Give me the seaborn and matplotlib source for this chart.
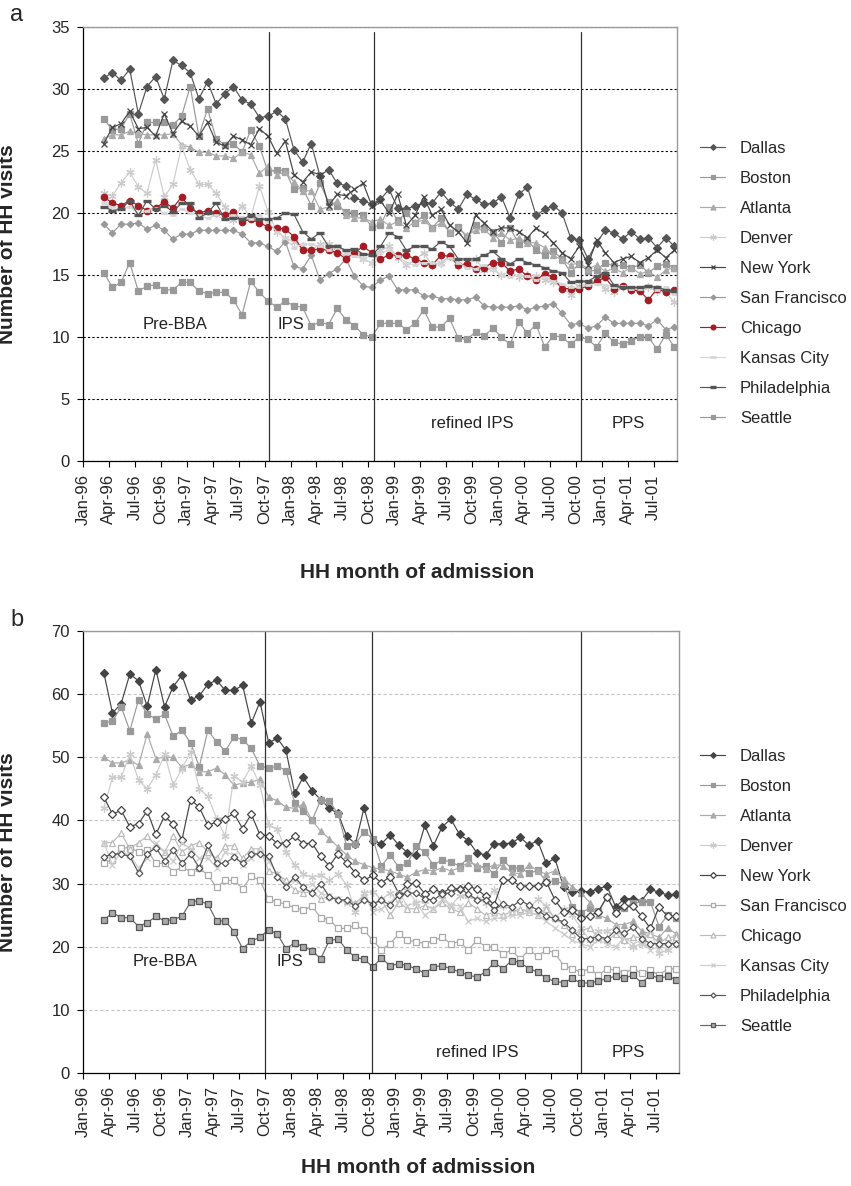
import numpy as np
import pandas as pd
import matplotlib
matplotlib.use("Agg")
import matplotlib.pyplot as plt
import seaborn as sns

cities = ["Dallas", "Boston", "Atlanta", "Denver", "New York", "San Francisco",
          "Chicago", "Kansas City", "Philadelphia", "Seattle"]

# monthly admissions Mar-96 .. Sep-01
months = pd.date_range("1996-03-01", "2001-09-01", freq="MS")

tick_labels = ["Jan-96", "Apr-96", "Jul-96", "Oct-96", "Jan-97", "Apr-97", "Jul-97", "Oct-97",
               "Jan-98", "Apr-98", "Jul-98", "Oct-98", "Jan-99", "Apr-99", "Jul-99", "Oct-99",
               "Jan-00", "Apr-00", "Jul-00", "Oct-00", "Jan-01", "Apr-01", "Jul-01"]

period_names = ["Pre-BBA", "IPS", "refined IPS", "PPS"]
period_starts = ["1997-10-01", "1998-10-01", "2000-10-01"]

# ---- panel a
a_dallas = [30.9, 31.3, 30.7, 31.6, 28.0, 30.2, 31.0, 29.2, 32.3, 31.9, 31.3, 29.2,
            30.6, 28.8, 29.6, 30.2, 29.1, 28.8, 27.7, 27.8, 28.2, 27.6, 25.1, 24.1,
            25.6, 23.0, 23.5, 22.4, 22.2, 21.2, 21.0, 20.7, 21.1, 21.9, 20.4, 20.3,
            20.6, 20.8, 20.8, 21.7, 20.9, 20.3, 21.5, 21.1, 20.7, 20.8, 21.3, 19.6,
            21.5, 22.1, 19.8, 20.3, 20.6, 20.0, 18.0, 17.8, 16.3, 17.6, 18.6, 18.4,
            17.9, 18.5, 17.9, 18.0, 17.2, 18.0, 17.3]
a_boston = [27.6, 26.7, 26.8, 28.0, 25.6, 27.3, 27.3, 27.3, 27.1, 27.8, 30.2, 26.2,
            28.4, 26.0, 25.5, 25.6, 24.9, 26.7, 25.4, 23.3, 23.5, 23.4, 21.9, 22.0,
            20.6, 22.4, 20.9, 20.6, 20.1, 20.0, 19.8, 18.9, 19.0, 20.5, 19.4, 20.0,
            19.2, 19.8, 18.8, 19.6, 18.4, 18.9, 18.0, 19.0, 18.8, 18.5, 17.6, 18.8,
            17.5, 17.8, 17.0, 16.6, 16.9, 16.3, 15.2, 15.9, 15.3, 15.4, 16.0, 15.7,
            15.8, 15.6, 15.8, 15.2, 15.7, 15.9, 15.6]
a_atlanta = [26.0, 26.3, 26.3, 26.6, 26.4, 26.3, 26.3, 26.3, 26.4, 25.5, 25.3, 24.9,
             24.9, 24.6, 24.6, 24.4, 24.9, 24.7, 23.2, 23.8, 23.1, 23.3, 22.5, 21.8,
             21.8, 20.3, 20.5, 21.0, 19.8, 19.6, 19.6, 19.3, 19.5, 19.0, 19.3, 18.8,
             19.3, 19.4, 18.8, 19.2, 18.5, 18.8, 18.2, 18.6, 18.7, 18.0, 18.4, 17.8,
             18.0, 17.6, 17.6, 17.2, 16.6, 16.2, 15.8, 16.0, 15.5, 15.8, 15.3, 15.5,
             15.2, 15.6, 15.1, 15.3, 14.8, 15.4, 15.6]
a_denver = [21.6, 21.4, 22.4, 23.3, 22.1, 21.6, 24.3, 21.3, 22.3, 25.4, 23.5, 22.3,
            22.3, 21.6, 20.5, 19.4, 20.6, 19.6, 22.2, 20.1, 18.5, 18.0, 17.7, 17.3,
            17.0, 17.5, 17.5, 17.0, 16.5, 16.8, 16.3, 16.0, 17.0, 17.3, 16.4, 15.8,
            16.2, 16.8, 15.8, 16.0, 16.5, 15.7, 15.8, 16.3, 15.4, 15.5, 15.0, 15.3,
            14.8, 15.0, 14.9, 14.6, 14.4, 14.0, 13.4, 14.1, 14.3, 14.5, 13.9, 13.6,
            14.0, 13.8, 13.8, 14.0, 13.7, 13.6, 12.8]
a_newyork = [25.6, 26.9, 27.2, 28.2, 26.8, 26.9, 26.2, 28.0, 26.4, 27.4, 27.0, 26.2,
             27.3, 25.7, 25.4, 26.2, 25.9, 25.5, 26.8, 26.2, 24.8, 25.8, 23.1, 22.5,
             23.3, 23.1, 20.6, 21.5, 21.4, 21.9, 22.4, 20.6, 21.0, 20.0, 21.5, 19.0,
             19.8, 21.3, 19.8, 20.3, 19.0, 18.5, 17.6, 19.8, 19.2, 18.5, 18.8, 18.8,
             18.5, 18.0, 18.8, 18.3, 17.6, 16.8, 16.3, 17.3, 15.8, 17.8, 16.8, 16.0,
             16.3, 16.5, 16.0, 16.4, 17.0, 16.4, 17.0]
a_sf = [19.1, 18.4, 19.1, 19.1, 19.2, 18.7, 19.0, 18.6, 17.9, 18.3, 18.3, 18.6,
        18.6, 18.6, 18.6, 18.6, 18.3, 17.6, 17.6, 17.3, 16.9, 17.7, 15.7, 15.5,
        16.6, 14.6, 15.1, 15.5, 16.3, 14.9, 14.1, 14.0, 14.6, 14.9, 13.8, 13.8,
        13.8, 13.3, 13.3, 13.1, 13.1, 13.0, 13.0, 13.2, 12.5, 12.4, 12.4, 12.4,
        12.5, 12.2, 12.4, 12.5, 12.7, 11.9, 11.0, 11.1, 10.7, 10.9, 11.6, 11.1,
        11.1, 11.1, 11.1, 10.9, 11.4, 10.6, 10.8]
a_chicago = [21.3, 20.8, 20.6, 21.0, 20.6, 20.2, 20.4, 20.9, 20.4, 21.3, 20.4, 20.0,
             20.2, 20.0, 19.8, 20.1, 19.3, 19.5, 19.2, 18.9, 18.8, 18.7, 18.1, 17.0,
             17.0, 17.1, 17.0, 16.8, 16.3, 16.8, 17.3, 16.8, 16.3, 16.6, 16.6, 16.6,
             16.3, 16.0, 15.8, 16.6, 16.5, 15.8, 15.9, 15.5, 15.6, 16.0, 16.0, 15.3,
             15.5, 14.9, 14.6, 15.1, 14.8, 13.9, 13.9, 13.9, 14.1, 14.5, 14.8, 13.9,
             14.1, 13.8, 13.7, 13.0, 13.9, 13.6, 13.8]
a_kc = [20.8, 20.5, 20.3, 20.5, 20.0, 20.2, 20.4, 20.0, 19.8, 20.3, 20.0, 19.8,
        19.6, 19.8, 19.5, 19.8, 19.7, 19.5, 19.8, 19.3, 18.5, 18.0, 17.2, 17.5,
        17.5, 17.3, 17.0, 17.4, 16.8, 16.5, 16.3, 16.0, 16.8, 17.0, 16.5, 16.0,
        15.8, 16.0, 16.0, 15.8, 16.4, 16.0, 15.6, 15.5, 15.8, 15.4, 15.0, 14.8,
        15.0, 14.9, 14.6, 14.8, 14.5, 14.3, 14.0, 14.0, 14.2, 14.3, 14.2, 14.0,
        14.1, 13.9, 13.9, 14.2, 13.8, 14.0, 13.5]
a_philly = [20.5, 20.2, 20.3, 21.0, 19.8, 21.0, 20.3, 20.6, 20.1, 20.8, 20.8, 19.6,
            20.0, 20.8, 19.5, 19.6, 19.5, 19.8, 19.5, 19.5, 19.6, 20.0, 19.9, 18.5,
            17.9, 18.4, 17.3, 17.3, 17.0, 17.1, 16.7, 16.6, 17.3, 18.4, 18.1, 17.0,
            17.3, 17.3, 17.1, 17.7, 17.3, 16.3, 16.3, 16.3, 16.6, 16.9, 16.3, 15.9,
            16.3, 16.0, 15.8, 15.6, 15.3, 15.2, 14.4, 14.5, 14.5, 14.9, 15.2, 14.2,
            14.0, 14.0, 14.0, 14.1, 14.0, 13.8, 13.7]
a_seattle = [15.2, 14.0, 14.4, 16.0, 13.7, 14.1, 14.2, 13.8, 13.8, 14.4, 14.4, 13.7,
             13.5, 13.6, 13.6, 13.0, 11.8, 14.5, 13.6, 12.9, 12.4, 12.9, 12.5, 12.4,
             10.9, 11.2, 11.0, 12.3, 11.4, 10.9, 10.2, 10.0, 11.1, 11.1, 11.1, 10.6,
             11.1, 12.2, 10.8, 10.8, 11.5, 9.9, 9.8, 10.4, 10.1, 10.7, 10.0, 9.4,
             11.2, 10.3, 11.0, 9.2, 10.1, 10.0, 9.4, 10.0, 9.8, 9.2, 10.3, 9.6,
             9.4, 9.7, 10.0, 10.0, 9.0, 10.2, 9.2]

# ---- panel b
b_dallas = [63.4, 57.0, 58.5, 63.2, 62.1, 58.1, 63.9, 58.0, 61.2, 63.0, 59.1, 59.7,
            61.6, 62.2, 60.6, 60.6, 61.4, 55.4, 58.8, 52.3, 53.0, 51.1, 44.3, 46.9,
            44.7, 43.3, 41.9, 41.1, 37.5, 36.3, 42.0, 36.8, 36.3, 37.7, 36.1, 34.9,
            34.5, 39.2, 36.0, 39.0, 40.2, 37.8, 36.8, 34.9, 34.5, 36.3, 36.3, 36.4,
            37.3, 36.1, 36.8, 33.2, 34.0, 29.4, 28.7, 28.8, 28.7, 29.2, 29.6, 26.3,
            27.6, 27.6, 27.3, 29.1, 28.6, 28.2, 28.3]
b_boston = [55.4, 55.7, 58.0, 54.2, 59.1, 56.8, 56.1, 56.8, 53.3, 54.3, 52.3, 48.5,
            54.3, 52.4, 51.0, 53.2, 52.8, 51.4, 48.6, 48.3, 48.6, 47.9, 42.8, 41.5,
            40.0, 43.2, 43.1, 41.0, 35.9, 36.3, 38.2, 37.1, 32.8, 34.5, 32.6, 33.2,
            35.9, 35.0, 32.9, 33.8, 33.4, 32.8, 34.0, 32.5, 32.8, 31.5, 33.7, 32.4,
            32.5, 31.6, 32.1, 30.3, 30.4, 30.0, 26.3, 25.4, 26.1, 25.6, 27.9, 25.5,
            26.2, 26.9, 27.1, 27.1, 23.2, 25.0, 24.6]
b_atlanta = [50.0, 49.1, 49.1, 49.6, 48.7, 53.7, 49.8, 50.0, 50.0, 48.4, 48.9, 47.7,
             47.7, 48.3, 47.2, 45.6, 45.9, 46.1, 46.5, 43.7, 43.1, 42.1, 41.9, 42.6,
             40.0, 38.3, 37.1, 35.8, 34.5, 33.5, 33.0, 32.5, 32.3, 32.0, 31.5, 31.0,
             31.8, 32.2, 32.0, 32.5, 32.0, 32.5, 33.3, 33.0, 32.3, 33.0, 32.8, 31.8,
             31.5, 33.0, 32.0, 31.5, 32.0, 30.8, 29.5, 28.5, 27.0, 25.0, 24.5, 23.5,
             23.5, 24.0, 22.5, 22.0, 21.5, 23.0, 22.0]
b_denver = [42.0, 46.8, 46.8, 50.5, 46.4, 45.0, 47.2, 50.5, 45.6, 48.2, 50.8, 45.0,
            43.8, 40.3, 37.5, 47.0, 46.1, 48.6, 45.6, 39.2, 38.7, 35.0, 33.0, 31.5,
            31.0, 31.3, 30.5, 31.5, 29.8, 25.5, 28.5, 28.7, 27.5, 28.5, 27.0, 29.0,
            27.0, 27.2, 29.2, 28.0, 26.5, 28.0, 28.0, 27.5, 27.0, 29.0, 26.5, 26.0,
            25.5, 26.0, 27.5, 26.5, 24.5, 26.0, 25.0, 23.0, 21.0, 22.5, 22.5, 23.0,
            21.0, 20.0, 20.5, 22.5, 19.0, 19.5, 21.5]
b_newyork = [43.7, 41.0, 41.6, 39.0, 39.5, 41.5, 37.8, 40.7, 39.4, 36.9, 43.3, 42.1,
             39.2, 39.8, 40.3, 41.1, 38.7, 41.0, 37.7, 37.6, 36.3, 36.5, 37.5, 36.3,
             36.4, 34.3, 32.8, 34.7, 33.3, 31.7, 30.5, 31.3, 30.1, 31.1, 28.4, 29.9,
             30.1, 28.4, 29.2, 28.5, 29.3, 29.1, 29.6, 29.1, 28.0, 26.6, 30.6, 30.5,
             29.6, 29.6, 29.6, 30.3, 27.4, 25.5, 25.8, 24.5, 24.9, 25.5, 27.9, 25.4,
             26.4, 26.4, 24.8, 22.9, 26.3, 24.8, 24.8]
b_sf = [33.2, 33.8, 35.6, 35.7, 35.0, 35.3, 33.2, 33.2, 31.9, 32.6, 31.9, 32.5,
        31.3, 29.4, 30.5, 30.5, 29.2, 31.2, 30.5, 27.5, 27.1, 26.7, 26.2, 25.8,
        26.4, 24.6, 24.3, 22.9, 22.9, 23.4, 22.6, 21.0, 19.5, 20.5, 22.0, 21.0,
        20.8, 20.5, 21.0, 21.5, 20.5, 20.8, 19.5, 21.0, 20.0, 20.0, 18.8, 19.5,
        18.0, 19.5, 18.5, 19.5, 19.0, 17.0, 16.5, 16.0, 16.5, 15.5, 16.5, 16.3,
        15.8, 16.5, 15.8, 16.3, 15.5, 16.5, 16.5]
b_chicago = [36.5, 36.5, 38.0, 35.5, 36.5, 37.5, 36.0, 35.0, 37.5, 35.0, 36.0, 36.5,
             35.0, 34.0, 36.0, 36.0, 34.0, 35.5, 35.5, 32.0, 31.5, 30.5, 29.0, 28.5,
             28.8, 27.5, 28.0, 27.5, 27.3, 27.0, 28.0, 26.5, 27.5, 25.0, 27.0, 26.0,
             26.0, 26.5, 26.0, 27.0, 26.0, 25.5, 27.0, 26.0, 25.0, 25.5, 25.0, 25.5,
             26.0, 25.5, 25.0, 26.0, 24.5, 23.5, 22.0, 22.5, 23.0, 21.5, 21.0, 22.0,
             21.0, 21.5, 21.5, 22.0, 20.5, 21.5, 21.5]
b_kc = [36.5, 33.0, 35.0, 34.5, 32.5, 34.0, 36.5, 35.0, 33.5, 36.5, 35.5, 34.0,
        34.0, 32.5, 35.0, 34.5, 33.0, 34.0, 35.0, 33.5, 31.5, 30.0, 30.5, 29.5,
        30.0, 28.5, 28.0, 27.5, 27.0, 26.5, 28.5, 25.5, 26.0, 27.0, 28.5, 26.5,
        27.0, 25.0, 26.0, 27.5, 26.5, 26.5, 24.0, 24.5, 24.0, 24.5, 24.5, 25.0,
        25.0, 25.5, 25.0, 24.0, 23.0, 22.0, 21.0, 20.5, 20.0, 21.0, 20.5, 20.0,
        21.5, 20.5, 21.0, 19.5, 20.0, 20.5, 20.5]
b_philly = [34.2, 34.7, 34.7, 34.3, 31.7, 34.7, 35.7, 33.6, 35.3, 33.2, 34.7, 32.5,
            36.1, 33.2, 33.2, 34.2, 33.2, 34.7, 34.7, 34.3, 31.1, 29.5, 31.1, 29.4,
            28.5, 30.0, 27.9, 27.4, 27.4, 26.4, 27.4, 26.8, 27.4, 26.6, 28.2, 28.5,
            28.5, 27.6, 27.4, 28.4, 28.5, 29.2, 28.4, 27.4, 27.4, 25.8, 26.8, 26.3,
            27.3, 26.6, 25.8, 24.8, 24.5, 23.9, 22.6, 21.3, 21.3, 21.6, 21.3, 22.6,
            22.1, 23.1, 21.3, 20.5, 20.5, 20.5, 20.5]
b_seattle = [24.2, 25.4, 24.6, 24.6, 23.2, 23.8, 24.8, 24.1, 24.3, 24.8, 27.1, 27.3,
             26.7, 24.1, 24.1, 22.4, 19.7, 20.9, 21.5, 22.7, 22.0, 19.7, 20.6, 20.0,
             19.4, 18.1, 21.0, 21.2, 19.5, 18.3, 18.0, 16.8, 18.2, 17.0, 17.3, 17.0,
             16.5, 15.8, 16.8, 17.0, 16.5, 16.0, 15.5, 15.2, 16.0, 17.5, 16.5, 17.8,
             17.5, 16.5, 16.0, 15.0, 14.5, 14.3, 15.0, 14.2, 14.3, 14.5, 15.0, 15.3,
             15.0, 15.5, 14.3, 15.5, 15.0, 15.3, 14.8]

panel_a = [a_dallas, a_boston, a_atlanta, a_denver, a_newyork, a_sf,
           a_chicago, a_kc, a_philly, a_seattle]
panel_b = [b_dallas, b_boston, b_atlanta, b_denver, b_newyork, b_sf,
           b_chicago, b_kc, b_philly, b_seattle]


def month_pos(dates):
    d = pd.DatetimeIndex(dates)
    return (d.year - 1996) * 12 + (d.month - 1)


def long_table(series):
    rows = []
    for city, vals in zip(cities, series):
        rows.append(pd.DataFrame({"city": city, "x": month_pos(months) + 0.4, "visits": vals}))
    return pd.concat(rows, ignore_index=True)


ast = (6, 2, 0)
style_a = {
    "Dallas": dict(color="#555555", marker="D", ms=3.8),
    "Boston": dict(color="#999999", marker="s", ms=4.6),
    "Atlanta": dict(color="#aaaaaa", marker="^", ms=4.8),
    "Denver": dict(color="#cccccc", marker=ast, ms=6),
    "New York": dict(color="#444444", marker="x", ms=4.8),
    "San Francisco": dict(color="#999999", marker="D", ms=3.3),
    "Chicago": dict(color="#a51c24", marker="o", ms=4.6),
    "Kansas City": dict(color="#d6d6d6", marker="_", ms=5, mew=2),
    "Philadelphia": dict(color="#555555", marker="_", ms=6, mew=2.4),
    "Seattle": dict(color="#999999", marker="s", ms=4.6),
}
style_b = {
    "Dallas": dict(color="#444444", marker="D", ms=3.8),
    "Boston": dict(color="#999999", marker="s", ms=4.6),
    "Atlanta": dict(color="#aaaaaa", marker="^", ms=4.8),
    "Denver": dict(color="#cccccc", marker=ast, ms=6),
    "New York": dict(color="#444444", marker="D", ms=4.0, mfc="white"),
    "San Francisco": dict(color="#aaaaaa", marker="s", ms=4.6, mfc="white"),
    "Chicago": dict(color="#bbbbbb", marker="^", ms=4.8, mfc="white"),
    "Kansas City": dict(color="#cccccc", marker="x", ms=4.8),
    "Philadelphia": dict(color="#555555", marker="D", ms=3.4, mfc="white"),
    "Seattle": dict(color="#666666", marker="s", ms=4.6, mfc="#aaaaaa", mec="#555555"),
}

sns.set_style("white")
plt.rcParams["font.family"] = ["Liberation Sans", "DejaVu Sans"]

W, H = 851, 1186
fig = plt.figure(figsize=(W / 100, H / 100), dpi=100)


def px_rect(l, t, r, b):
    return [l / W, 1 - b / H, (r - l) / W, (b - t) / H]


def draw(ax, series, styles, ymax, ystep, grid_kw, vline_top, vline_off,
         text_pos, legend_top, letter_y, letter):
    df = long_table(series)
    for city in cities:
        st = dict(styles[city])
        col = st.pop("color")
        mk = st.pop("marker")
        ms = st.pop("ms")
        kw = dict(markerfacecolor=st.pop("mfc", col), markeredgecolor=st.pop("mec", col),
                  markeredgewidth=st.pop("mew", 0.9))
        sns.lineplot(data=df[df.city == city], x="x", y="visits", ax=ax, color=col,
                     marker=mk, markersize=ms, linewidth=0.85, label=city, **kw)

    ax.set_xlim(0, 68.7)
    ax.set_ylim(0, ymax)
    ax.set_yticks(np.arange(0, ymax + 1, ystep))
    ax.set_xticks(np.arange(0, 67, 3))
    ax.set_xticklabels(tick_labels, rotation=90)
    ax.tick_params(axis="both", labelsize=12, direction="out", length=4.5, width=0.8,
                   color="black", pad=5, left=True, bottom=True)
    ax.yaxis.grid(True, **grid_kw)
    ax.xaxis.grid(False)
    ax.set_axisbelow(True)
    for s in ["left", "bottom"]:
        ax.spines[s].set_color("black")
        ax.spines[s].set_linewidth(0.9)
    for s in ["top", "right"]:
        ax.spines[s].set_color("#9a9a9a")
        ax.spines[s].set_linewidth(1.0)

    for d, off in zip(period_starts, vline_off):
        ax.axvline(month_pos([d])[0] + off, ymin=0, ymax=vline_top, color="#333333", lw=0.9)
    for name, (tx, ty) in zip(period_names, text_pos):
        ax.text(tx, ty, name, ha="center", va="center", fontsize=12, color="#222222")

    ax.set_ylabel("Number of HH visits", fontsize=15, fontweight="bold")
    ax.set_xlabel("HH month of admission", fontsize=15, fontweight="bold")
    ax.yaxis.set_label_coords(-0.111, 0.5)

    h, l = ax.get_legend_handles_labels()
    ax.legend(h, l, loc="upper left", bbox_to_anchor=(700 / W, 1 - legend_top / H),
              bbox_transform=fig.transFigure, frameon=False, fontsize=12,
              handlelength=1.5, handletextpad=0.9, labelspacing=0.9,
              borderpad=0, borderaxespad=0, markerscale=0.75)
    fig.text(10 / W, 1 - letter_y / H, letter, fontsize=17, va="center", ha="left")


ax1 = fig.add_axes(px_rect(83, 27, 677, 461))
draw(ax1, panel_a, style_a, 35, 5,
     dict(color="black", linestyle=(0, (2, 2)), linewidth=0.8),
     34.6 / 35, [0.55, 0.7, 0.6],
     [(10.7, 11.0), (24.0, 11.0), (45.0, 3.0), (63.1, 3.0)], 141, 15, "a")
ax1.xaxis.set_label_coords(0.562, -0.235)

ax2 = fig.add_axes(px_rect(83, 631, 679, 1073))
draw(ax2, panel_b, style_b, 70, 10,
     dict(color="#c4c4c4", linestyle=(0, (3, 2)), linewidth=0.8),
     1.0, [0.0, 0.3, 0.4],
     [(9.5, 17.6), (23.9, 17.6), (45.5, 3.3), (62.8, 3.3)], 749, 620, "b")
ax2.xaxis.set_label_coords(0.562, -0.193)

fig.savefig("out.png", dpi=100)
